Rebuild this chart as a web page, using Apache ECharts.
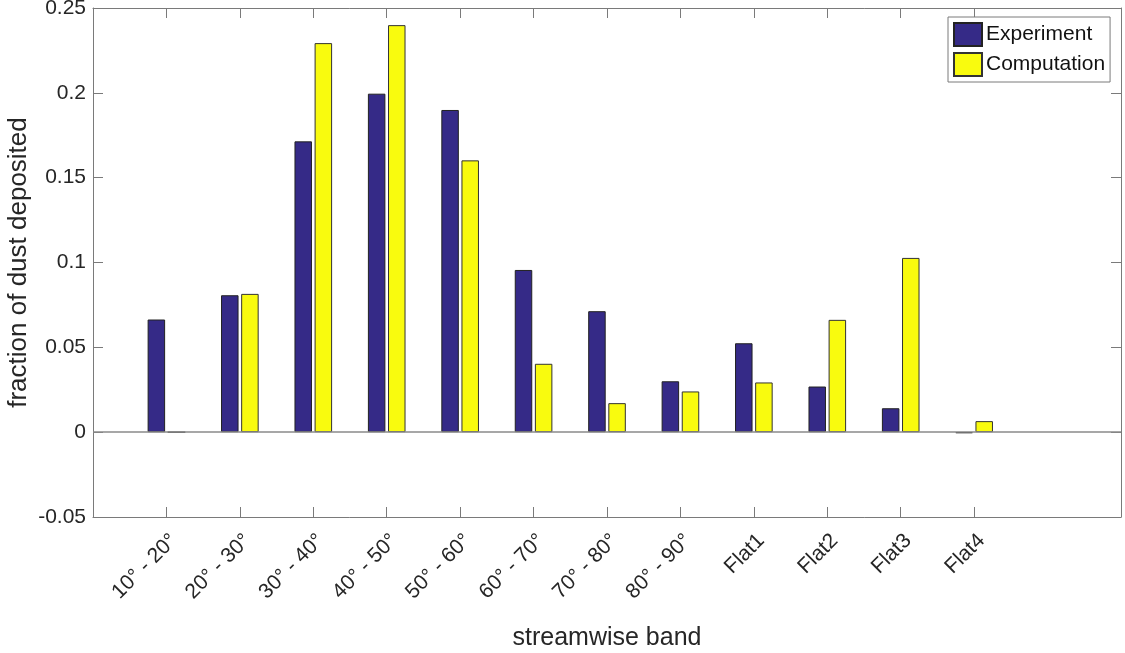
<!DOCTYPE html>
<html><head><meta charset="utf-8">
<script src="https://cdn.jsdelivr.net/npm/echarts@6/dist/echarts.min.js"></script>
<style>html,body{margin:0;padding:0;background:#fff}#chart{width:1125px;height:653px}</style>
</head><body><div id="chart"></div>
<script>
const categories = ['10° - 20°','20° - 30°','30° - 40°','40° - 50°','50° - 60°','60° - 70°','70° - 80°','80° - 90°','Flat1','Flat2','Flat3','Flat4'];
const experiment = [0.0664, 0.0807, 0.1714, 0.1995, 0.1899, 0.0956, 0.0713, 0.0300, 0.0524, 0.0269, 0.0141, -0.0006];
const computation = [0, 0.0815, 0.2293, 0.2399, 0.1602, 0.0403, 0.0171, 0.0240, 0.0293, 0.0662, 0.1027, 0.0065];
const seriesNames = ['Experiment', 'Computation'];

const FONT = "'Liberation Sans', Arial, Helvetica, sans-serif";
const AX = '#7a7a7a';
const TXT = '#262626';
const pos = categories.map((_, i) => i + 1);

const chart = echarts.init(document.getElementById('chart'));
const xBase = {
  type: 'value', min: 0, max: pos.length + 2,
  splitLine: { show: false },
  axisLine: { show: true, onZero: false, lineStyle: { color: AX, width: 1 } },
  axisTick: { show: true, inside: true, length: 10, customValues: pos, lineStyle: { color: AX } }
};
const yBase = {
  type: 'value', min: -0.05, max: 0.25, interval: 0.05,
  splitLine: { show: false },
  axisLine: { show: true, onZero: false, lineStyle: { color: AX, width: 1 } },
  axisTick: { show: true, inside: true, length: 10, lineStyle: { color: AX } }
};
chart.setOption({
  animation: false,
  textStyle: { fontFamily: FONT },
  grid: { left: 93, right: 4, top: 8, bottom: 136, containLabel: false, outerBoundsMode: 'none' },
  legend: {
    orient: 'vertical', left: 948, top: 17, icon: 'rect',
    padding: [5, 5, 5, 5], itemWidth: 28, itemHeight: 23, itemGap: 5,
    backgroundColor: '#fff', borderColor: AX, borderWidth: 1,
    textStyle: { fontSize: 21, color: '#111', fontFamily: FONT, padding: [0, 0, 0, -1] },
    data: seriesNames
  },
  xAxis: [
    Object.assign({}, xBase, {
      position: 'bottom',
      axisLabel: {
        show: true, customValues: pos, rotate: 45, margin: 13, verticalAlign: 'top',
        fontSize: 21, color: TXT, fontFamily: FONT,
        formatter: v => categories[Math.round(v) - 1] || ''
      },
      name: 'streamwise band', nameLocation: 'middle', nameGap: 109,
      nameTextStyle: { fontSize: 25, color: TXT, fontFamily: FONT }
    }),
    Object.assign({}, xBase, { position: 'top', axisLabel: { show: false } })
  ],
  yAxis: [
    Object.assign({}, yBase, {
      position: 'left',
      axisLabel: { show: true, fontSize: 21, color: TXT, margin: 7, fontFamily: FONT },
      name: 'fraction of dust deposited', nameLocation: 'middle', nameGap: 61,
      nameMoveOverlap: false,
      nameTextStyle: { fontSize: 26, color: TXT, fontFamily: FONT }
    }),
    Object.assign({}, yBase, { position: 'right', axisLabel: { show: false } })
  ],
  series: [
    {
      name: seriesNames[0], type: 'bar', xAxisIndex: 0, yAxisIndex: 0,
      barWidth: 17.5, barGap: '15%',
      itemStyle: { color: '#352A87', borderColor: '#222', borderWidth: 1 },
      data: experiment.map((v, i) => [pos[i], v]),
      markLine: {
        silent: true, symbol: ['none', 'none'], label: { show: false },
        lineStyle: { color: '#8a8a8a', width: 1.5, type: 'solid' },
        data: [{ yAxis: 0 }]
      }
    },
    {
      name: seriesNames[1], type: 'bar', xAxisIndex: 0, yAxisIndex: 0,
      barWidth: 17.5, barGap: '15%',
      itemStyle: { color: '#F9FB0E', borderColor: '#333', borderWidth: 1 },
      data: computation.map((v, i) => [pos[i], v])
    }
  ]
});
</script>
</body></html>
